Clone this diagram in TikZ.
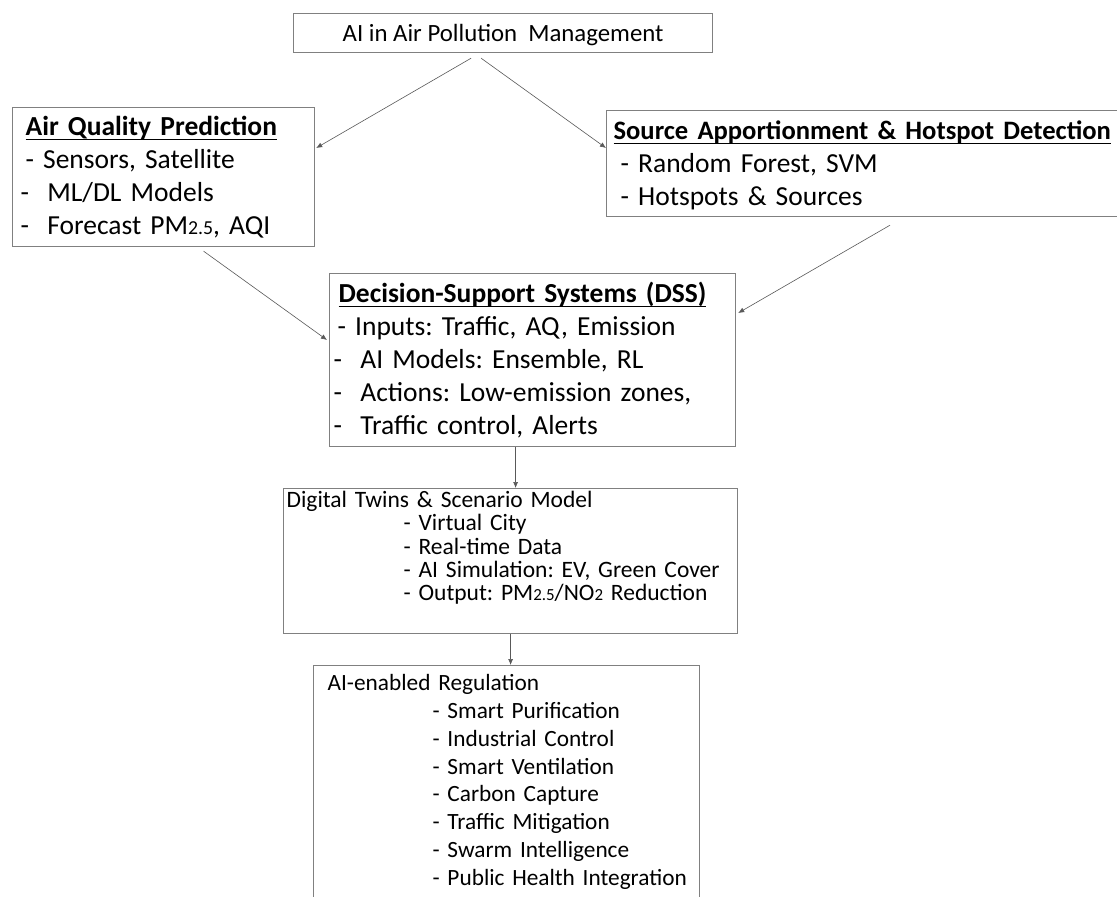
\documentclass[tikz,border=0pt]{standalone}
\usepackage{fontspec}
\setmainfont{Carlito}
\usetikzlibrary{arrows.meta}
\frenchspacing
\hyphenpenalty=10000
\newsavebox\headbox
\newcommand{\boxhead}[1]{\sbox\headbox{\bfseries #1}\rlap{\rule[-4.5pt]{\wd\headbox}{1.5pt}}\usebox\headbox}
\newcommand{\lowidx}[1]{\scalebox{0.72}{#1}}
\begin{document}
\begin{tikzpicture}[x=1pt,y=-1pt,
        box/.style={draw=black!50, line width=1.2pt, anchor=north west,
            align=left, inner ysep=0pt},
        arr/.style={-{Latex[length=6pt,width=5pt]}, draw=black!65,
            line width=0.6pt}]
\clip (0,0) rectangle (1117,897);
\fill[white] (0,0) rectangle (1117,897);

\node[box, align=center, inner xsep=0pt, minimum width=419pt,
    text height=28pt, text depth=11pt,
    font=\fontsize{24.8}{30}\selectfont] (main) at (293,13)
    {AI in Air Pollution~~Management};

\node[box, inner xsep=8pt, text width=286pt, text height=28pt,
    text depth=111pt, font=\fontsize{27.5}{33}\selectfont] (aqp) at (12,107)
    {\hspace*{5pt}\boxhead{Air Quality Prediction}\\
     \hspace*{5pt}- Sensors, Satellite\\
     -~~ML/DL Models\\
     -~~Forecast PM\lowidx{2.5}, AQI};

\node[box, inner xsep=7pt, text width=520pt, text height=29pt,
    text depth=77pt, font=\fontsize{27.5}{33}\selectfont] (sahd) at (606,110)
    {{\fontsize{26.6}{33}\selectfont\boxhead{Source Apportionment \& Hotspot Detection}}\\
     \hspace*{7pt}- Random Forest, SVM\\
     \hspace*{7pt}- Hotspots \& Sources};

\node[box, inner xsep=4pt, text width=398pt, text height=29pt,
    text depth=144pt, font=\fontsize{27.5}{33}\selectfont] (dss) at (329,273)
    {\hspace*{5pt}\boxhead{Decision-Support Systems (DSS)}\\
     \hspace*{4pt}- Inputs: Traffic, AQ, Emission\\
     -~~AI Models: Ensemble, RL\\
     -~~Actions: Low-emission zones,\\
     -~~Traffic control, Alerts};

\node[box, inner xsep=3pt, text width=448pt, text height=19pt,
    text depth=126pt, font=\fontsize{23.5}{23.3}\selectfont] (dtsm) at (283,488)
    {Digital Twins \& Scenario Model\\
     \hspace*{117pt}- Virtual City\\
     \hspace*{117pt}- Real-time Data\\
     \hspace*{117pt}- AI Simulation: EV, Green Cover\\
     \hspace*{117pt}- Output: PM\lowidx{2.5}/NO\lowidx{2} Reduction};

\node[box, inner xsep=0pt, text width=386pt, text height=25pt,
    text depth=260pt, font=\fontsize{23.3}{27.8}\selectfont] (air) at (313,665)
    {\hspace*{14pt}AI-enabled Regulation\\
     \hspace*{119pt}- Smart Purification\\
     \hspace*{119pt}- Industrial Control\\
     \hspace*{119pt}- Smart Ventilation\\
     \hspace*{119pt}- Carbon Capture\\
     \hspace*{119pt}- Traffic Mitigation\\
     \hspace*{119pt}- Swarm Intelligence\\
     \hspace*{119pt}- Public Health Integration};

% connectors
\draw[arr] ([shift={(-32,5)}]main.south) -- ([shift={(1,41)}]aqp.north east);
\draw[arr] ([shift={(-22,5)}]main.south) -- ([shift={(0,38)}]sahd.north west);
\draw[arr] ([shift={(40,4)}]aqp.south) -- ([shift={(-2,67)}]dss.north west);
\draw[arr] ([shift={(284,8)}]sahd.south west) -- ([shift={(2,40)}]dss.north east);
\draw[arr] ([shift={(-17,0)}]dss.south) coordinate (d1) -- (d1 |- dtsm.north);
\draw[arr] (dtsm.south) -- (dtsm.south |- air.north);
\end{tikzpicture}
\end{document}
